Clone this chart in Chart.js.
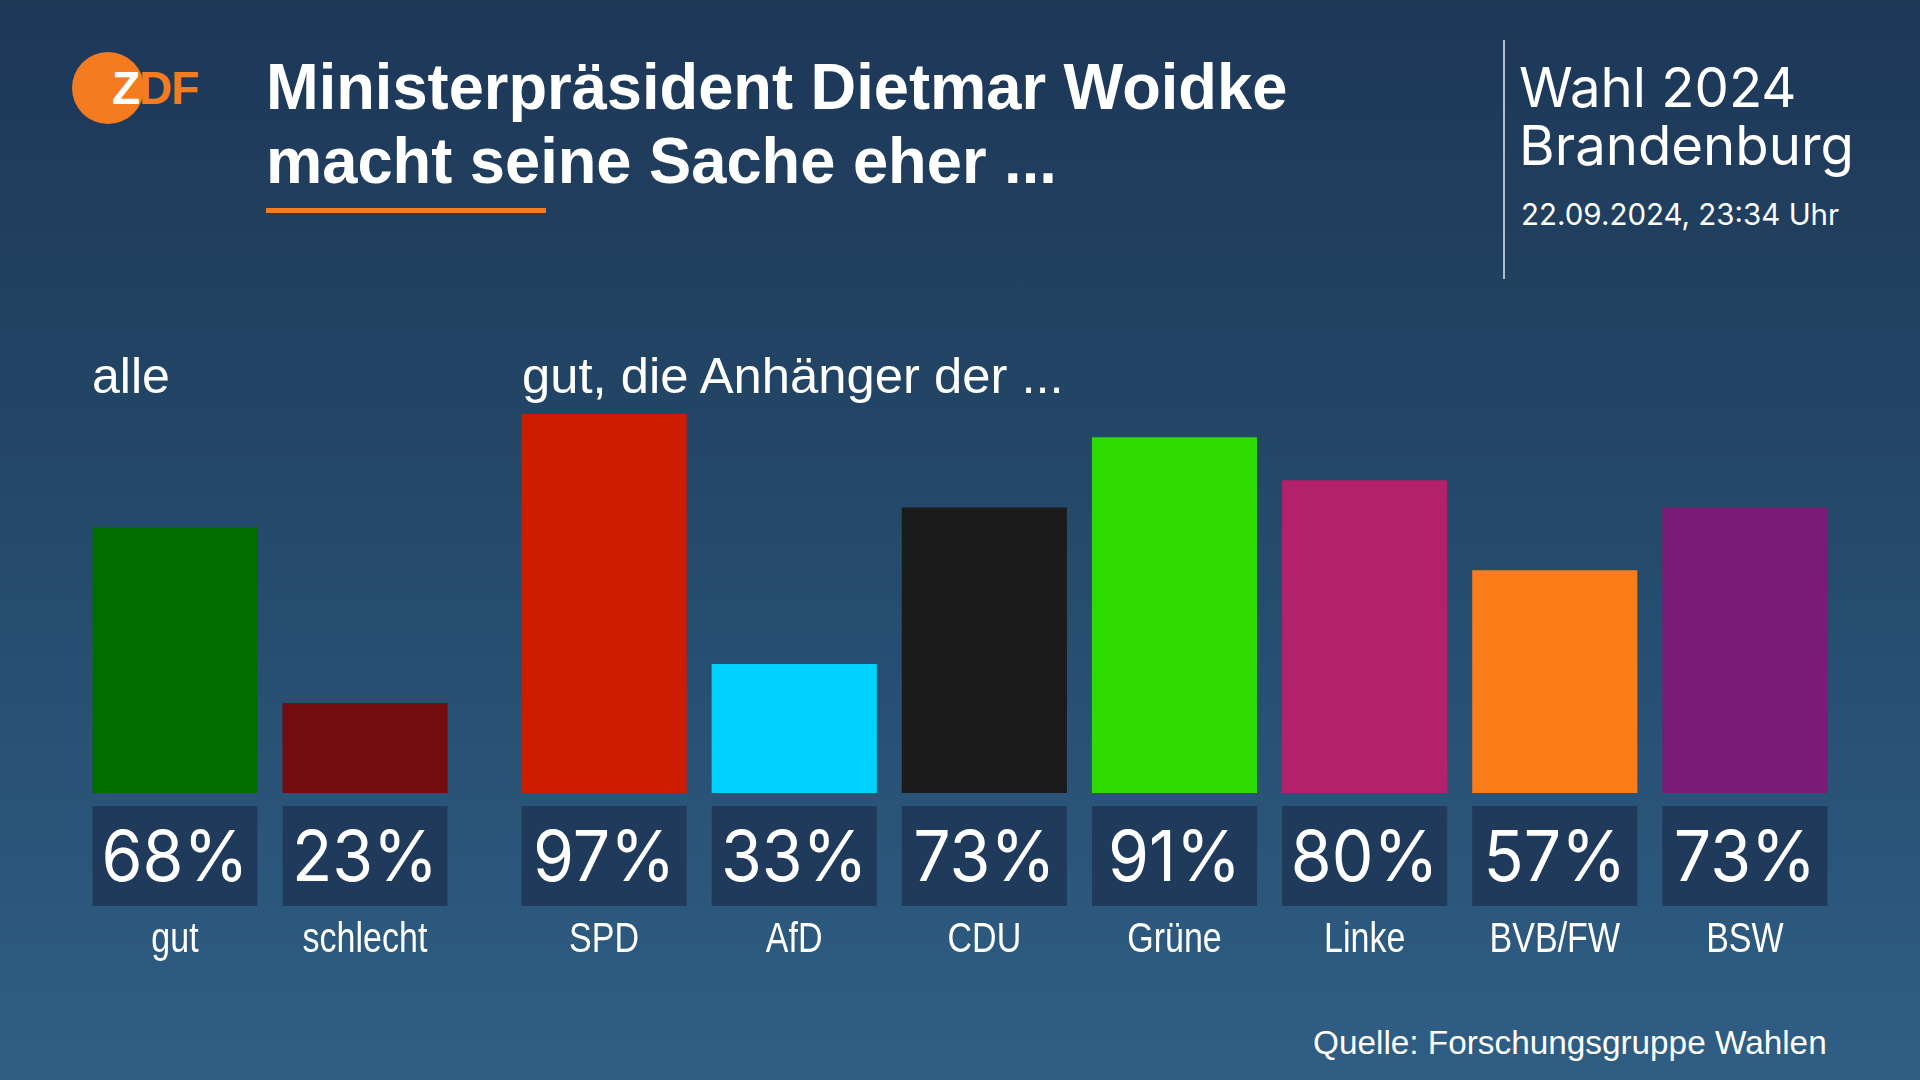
<!DOCTYPE html>
<html lang="de">
<head>
<meta charset="utf-8">
<title>Ministerpräsident Dietmar Woidke macht seine Sache eher ...</title>
<script src="https://cdn.jsdelivr.net/npm/chart.js@4"></script>
<style>
  html, body { margin: 0; padding: 0; }
  body {
    width: 1920px; height: 1080px; position: relative; overflow: hidden;
    background: linear-gradient(180deg, #1d3757 0%, #244868 45%, #2f5e85 100%);
    color: #fff;
  }
  .narrow { font-family: "Liberation Sans Narrow", "Liberation Sans", sans-serif; transform-origin: 0 0; }
  .abs { position: absolute; white-space: nowrap; }
  #logo { left: 72px; top: 52px; width: 72px; height: 72px; border-radius: 50%; background: #f47b20; }
  #logoText { left: 112px; top: 62px; font: bold 46px "Liberation Sans", sans-serif; line-height: 52px; color: #f47b20; letter-spacing: -1px; }
  #logoText span { color: #fff; }
  #title { left: 266px; top: 50px; font-weight: bold; font-size: 64px; line-height: 74px; transform: scaleX(0.988); }
  #underline { left: 266px; top: 208px; width: 280px; height: 5px; background: #f47b20; }
  #vline { left: 1503px; top: 40px; width: 2px; height: 239px; background: #b4bcc6; }
  #wahl { left: 1519px; top: 58px; font-family: Inter, sans-serif; font-size: 54.5px; line-height: 58px; }
  #datum { left: 1521px; top: 196px; font-family: Inter, sans-serif; font-size: 29.5px; line-height: 36px; }
  #alle { left: 92px; top: 348px; font-size: 50px; line-height: 56px; }
  #anh { left: 522px; top: 348px; font-size: 50px; line-height: 56px; transform: scaleX(1.015); }
  #quelle { left: 1313px; top: 1021px; font-size: 34px; line-height: 42px; transform: scaleX(0.98); }
  canvas { position: absolute; }
</style>
</head>
<body>
<div id="logo" class="abs"></div>
<div id="logoText" class="abs"><span>Z</span>DF</div>
<div id="title" class="abs narrow">Ministerpräsident Dietmar Woidke<br>macht seine Sache eher ...</div>
<div id="underline" class="abs"></div>
<div id="vline" class="abs"></div>
<div id="wahl" class="abs">Wahl 2024<br>Brandenburg</div>
<div id="datum" class="abs">22.09.2024, 23:34 Uhr</div>
<div id="alle" class="abs narrow">alle</div>
<div id="anh" class="abs narrow">gut, die Anhänger der ...</div>
<div id="quelle" class="abs narrow">Quelle: Forschungsgruppe Wahlen</div>

<div style="position:absolute;left:80px;top:402px;width:380px;height:561px"><canvas id="chartAlle"></canvas></div>
<div style="position:absolute;left:509px;top:402px;width:1331px;height:561px"><canvas id="chartParteien"></canvas></div>

<script>
// Werte aus der Grafik
const allLabels = ['gut', 'schlecht'];
const allValues = [68, 23];
const allColors = ['#006d00', '#730c0e'];

const partyLabels = ['SPD', 'AfD', 'CDU', 'Grüne', 'Linke', 'BVB/FW', 'BSW'];
const partyValues = [97, 33, 73, 91, 80, 57, 73];
const partyColors = ['#cc1d00', '#00d3ff', '#1b1b1b', '#2ddb00', '#b3216a', '#fa7d1a', '#7b1a77'];

// dunkle Kästen mit Prozentwerten und Beschriftung unter den Balken
const valueBoxes = {
    id: 'valueBoxes',
    afterDatasetsDraw(chart) {
        const ctx = chart.ctx;
        const meta = chart.getDatasetMeta(0);
        const xScale = chart.scales.x;
        const top = chart.chartArea.bottom + 13;
        const h = 100;
        ctx.save();
        ctx.textAlign = 'center';
        ctx.textBaseline = 'middle';
        meta.data.forEach((bar, i) => {
            const w = bar.width;
            ctx.fillStyle = '#1f3a5a';
            ctx.fillRect(bar.x - w / 2, top, w, h);

            ctx.fillStyle = '#fff';
            ctx.save();
            ctx.translate(bar.x, top + h / 2 + 4);
            ctx.scale(0.945, 1);
            ctx.font = '70px Inter, sans-serif';
            ctx.fillText(chart.data.datasets[0].data[i] + '%', 0, 0);
            ctx.restore();

            // Kategorie, schmal gestaucht wie im Original
            const x = xScale.getPixelForValue(i);
            ctx.save();
            ctx.translate(x, top + h + 34);
            ctx.scale(0.81, 1);
            ctx.font = '42px "Liberation Sans", sans-serif';
            ctx.fillText(chart.data.labels[i], 0, 0);
            ctx.restore();
        });
        ctx.restore();
    }
};

function makeChart(id, labels, values, colors) {
    const canvas = document.getElementById(id);
    const ctx = canvas.getContext('2d');
    return new Chart(ctx, {
        type: 'bar',
        data: {
            labels: labels,
            datasets: [{
                data: values,
                backgroundColor: colors,
                borderWidth: 0,
                barPercentage: 165 / 190,
                categoryPercentage: 1
            }]
        },
        options: {
            responsive: true,
            maintainAspectRatio: false,
            animation: false,
            layout: { padding: { top: 0, left: 0, right: 0, bottom: 170 } },
            plugins: { legend: { display: false }, tooltip: { enabled: false } },
            scales: {
                y: { display: false, min: 0, max: 100 },
                x: { display: false }
            }
        },
        plugins: [valueBoxes]
    });
}

makeChart('chartAlle', allLabels, allValues, allColors);
makeChart('chartParteien', partyLabels, partyValues, partyColors);
</script>
</body>
</html>
